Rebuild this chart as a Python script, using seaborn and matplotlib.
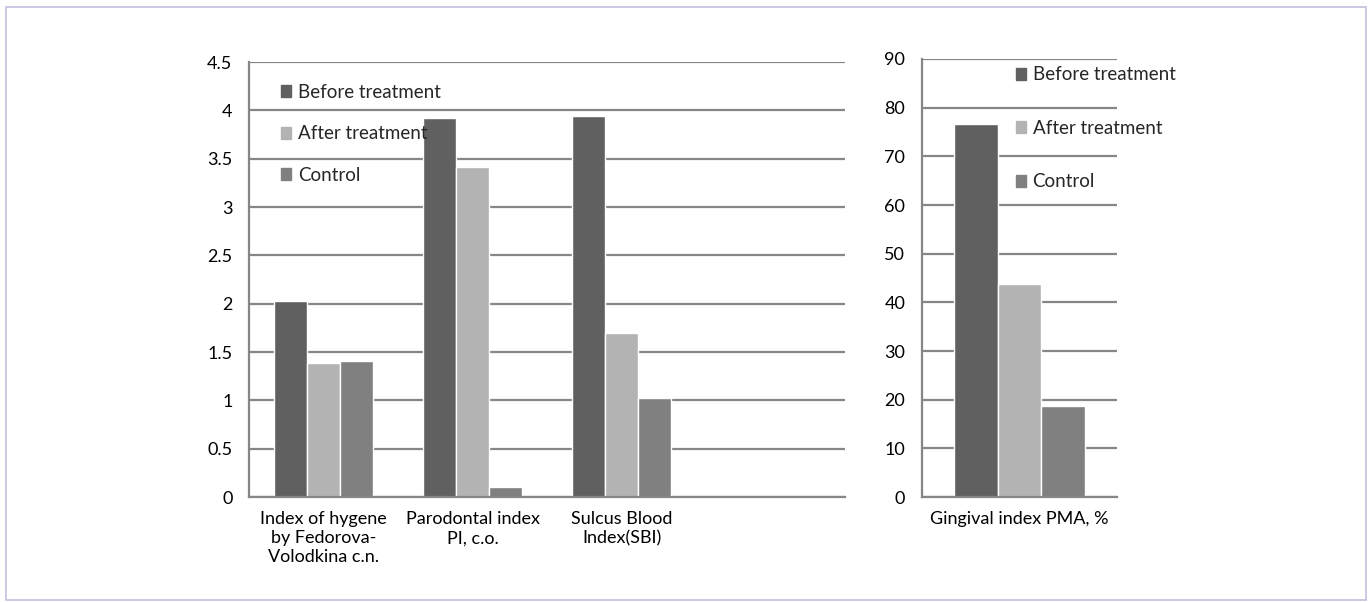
import matplotlib
matplotlib.use("Agg")
import matplotlib.pyplot as plt
import matplotlib.patches as mpatches
import seaborn as sns
import pandas as pd
import numpy as np

categories_left = ["Index of hygene\nby Fedorova-\nVolodkina c.n.", "Parodontal index\nPI, c.o.", "Sulcus Blood\nIndex(SBI)"]
before_left = [2.03, 3.92, 3.94]
after_left = [1.39, 3.41, 1.70]
control_left = [1.41, 0.10, 1.02]

categories_right = ["Gingival index PMA, %"]
before_right = [76.6]
after_right = [43.8]
control_right = [18.7]

series = ["Before treatment", "After treatment", "Control"]
colors = ["#606060", "#b3b3b3", "#808080"]

sns.set_theme(style="white")
plt.rcParams['font.family'] = ['Lato', 'DejaVu Sans']

FS = 13

def make_df(cats, b, a, c):
    rows = []
    for name, vals in zip(series, [b, a, c]):
        for cat, v in zip(cats, vals):
            rows.append({"cat": cat, "series": name, "value": v})
    return pd.DataFrame(rows)

fig = plt.figure(figsize=(13.7, 6.02), dpi=100)
axL = fig.add_axes([0.1818, 0.1744, 0.435, 0.7226])
axR = fig.add_axes([0.673, 0.1744, 0.1423, 0.7276])

grid_c = "#868686"

def style(ax, ymax, ystep, ncat, fmt):
    ax.set_ylim(0, ymax)
    ax.set_xlim(-0.5, ncat - 0.5)
    yt = np.arange(0, ymax + ystep / 2, ystep)
    ax.set_yticks(yt)
    ax.set_yticklabels([fmt(v) for v in yt], fontsize=FS)
    ax.yaxis.grid(True, color=grid_c, linewidth=1.6)
    ax.set_axisbelow(True)
    for s in ["top", "right"]:
        ax.spines[s].set_visible(False)
    for s in ["left", "bottom"]:
        ax.spines[s].set_color(grid_c)
        ax.spines[s].set_linewidth(1.6)
    ax.tick_params(axis="y", which="major", length=5, width=1.6, color=grid_c, direction="out", pad=7, labelcolor="black")
    ax.set_xticks([i - 0.5 for i in range(ncat + 1)], minor=True)
    ax.tick_params(axis="x", which="minor", length=5, width=1.6, color=grid_c, direction="out")
    ax.tick_params(axis="x", which="major", length=0, pad=10, labelsize=FS, labelcolor="black")
    ax.set_xlabel("")
    ax.set_ylabel("")

dfL = make_df(categories_left, before_left, after_left, control_left)
sns.barplot(data=dfL, x="cat", y="value", hue="series", hue_order=series, palette=colors,
            width=0.67, saturation=1, ax=axL, legend=False, errorbar=None)
style(axL, 4.5, 0.5, 4, lambda v: f"{v:g}")
axL.set_xticks(range(3))
axL.set_xticklabels(categories_left, linespacing=1.25)

dfR = make_df(categories_right, before_right, after_right, control_right)
sns.barplot(data=dfR, x="cat", y="value", hue="series", hue_order=series, palette=colors,
            width=0.67, saturation=1, ax=axR, legend=False, errorbar=None)
style(axR, 90, 10, 1, lambda v: f"{v:g}")
axR.set_xticks([0])
axR.set_xticklabels(categories_right)

handles = [mpatches.Patch(color=c, label=s) for c, s in zip(colors, series)]
axL.legend(handles=handles, loc="upper left", bbox_to_anchor=(0.025, 0.989), frameon=False,
           fontsize=FS + 0.5, handlelength=0.55, handleheight=0.6, handletextpad=0.35, labelspacing=1.31)
axR.legend(handles=handles, loc="upper left", bbox_to_anchor=(0.394, 1.022), frameon=False,
           fontsize=FS + 0.5, handlelength=0.55, handleheight=0.6, handletextpad=0.35, labelspacing=1.95)

border = mpatches.Rectangle((6 / 1370, 2 / 602), 1360 / 1370, 593 / 602, transform=fig.transFigure,
                            fill=False, edgecolor="#c0c0e0", linewidth=1.2)
fig.patches.append(border)

fig.savefig("out.png", dpi=100, facecolor="white")
